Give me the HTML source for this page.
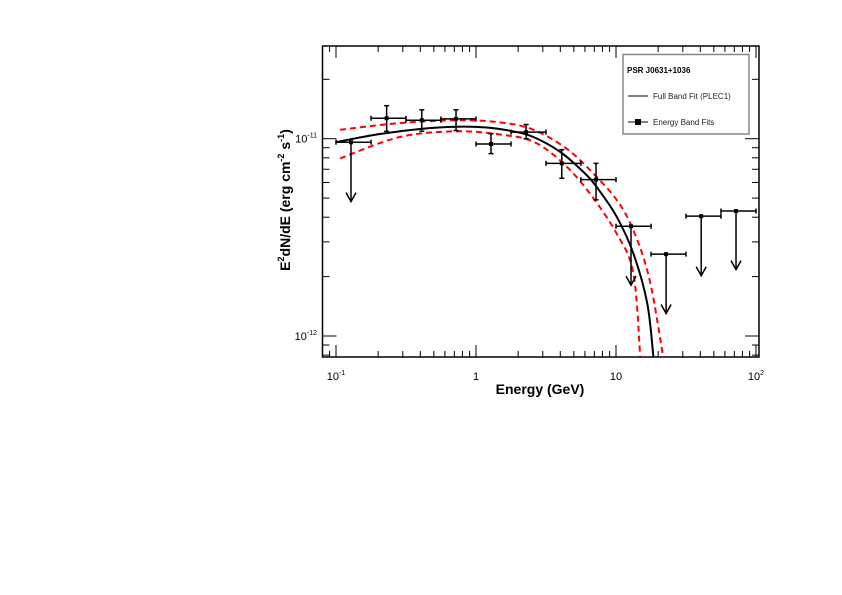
<!DOCTYPE html>
<html><head><meta charset="utf-8"><style>
html,body{margin:0;padding:0;background:#fff;}
svg{display:block;font-family:"Liberation Sans",Arial,sans-serif;}
</style></head><body>
<svg id="chart" width="842" height="595" viewBox="0 0 842 595" xmlns="http://www.w3.org/2000/svg">
<rect x="0" y="0" width="842" height="595" fill="#fff"/>
<g id="plot"></g>
<g id="legend">
  <rect x="623" y="54.5" width="126" height="79.5" fill="#fff" stroke="#888" stroke-width="1.5"/>
  <text x="627" y="73" font-size="8" font-weight="bold">PSR J0631+1036</text>
  <g>
    <line x1="628" y1="96" x2="648" y2="96" stroke="#000" stroke-width="1"/>
    <text x="653" y="99" font-size="8" fill="#222">Full Band Fit (PLEC1)</text>
  </g>
  <g>
    <line x1="628" y1="122" x2="648" y2="122" stroke="#000" stroke-width="1"/>
    <rect x="635" y="119" width="6" height="6" fill="#000"/>
    <text x="653" y="125" font-size="8" fill="#222">Energy Band Fits</text>
  </g>
</g>
<text x="540" y="394" text-anchor="middle" font-size="14" font-weight="bold">Energy (GeV)</text>
<text transform="translate(290,200) rotate(-90)" text-anchor="middle" font-size="14" font-weight="bold">E<tspan font-size="9" dy="-6">2</tspan><tspan dy="6">dN/dE (erg cm</tspan><tspan font-size="9" dy="-6">-2</tspan><tspan dy="6"> s</tspan><tspan font-size="9" dy="-6">-1</tspan><tspan dy="6">)</tspan></text>
</svg>
<script>
// ---- data ----
const binLow  = [0.1,0.178,0.316,0.562,1,1.78,3.16,5.62,10,17.8,31.6,56.2];
const binHigh = [0.178,0.316,0.562,1,1.78,3.16,5.62,10,17.8,31.6,56.2,100];
const pointE  = [0.128,0.23,0.41,0.72,1.28,2.28,4.1,7.2,12.8,22.8,40.6,72];
const pointFlux = [9.6e-12,1.27e-11,1.24e-11,1.26e-11,9.4e-12,1.08e-11,7.5e-12,6.2e-12,3.6e-12,2.6e-12,4.05e-12,4.3e-12];
const errLow  = [null,1.09e-11,1.09e-11,1.10e-11,8.4e-12,1.00e-11,6.3e-12,4.9e-12,null,null,null,null];
const errHigh = [null,1.47e-11,1.40e-11,1.40e-11,1.06e-11,1.18e-11,8.8e-12,7.5e-12,null,null,null,null];
const isUpperLimit = [true,false,false,false,false,false,false,false,true,true,true,true];
const arrowEnd = [4.8e-12,null,null,null,null,null,null,null,1.81e-12,1.30e-12,2.02e-12,2.17e-12];
const fitE    = [0.1,0.195,0.398,0.726,1.19,1.84,2.57,3.97,5.83,7.26,10.1,13.3,16.7,18.5];
const fitFlux = [9.6e-12,1.05e-11,1.12e-11,1.15e-11,1.14e-11,1.09e-11,1.02e-11,8.6e-12,6.8e-12,5.7e-12,4.03e-12,2.62e-12,1.47e-12,7.85e-13];
const upE     = [0.107,0.286,0.726,1.48,2.57,4.44,6.83,10.1,13.3,17.4,21.7];
const upFlux  = [1.11e-11,1.20e-11,1.24e-11,1.21e-11,1.11e-11,8.9e-12,6.7e-12,4.9e-12,3.44e-12,1.92e-12,7.85e-13];
const loE     = [0.107,0.286,0.726,1.48,2.57,4.2,6.5,10.1,13.3,14.9];
const loFlux  = [7.95e-12,1.02e-11,1.09e-11,1.05e-11,9.66e-12,7.5e-12,5.28e-12,3.31e-12,2.08e-12,7.85e-13];
const xTickVals = [0.1,1,10,100];
const xTickLabels = [["10","-1"],["1",""],["10",""],["10","2"]];
const yTickVals = [1e-12,1e-11];
const yTickLabels = [["10","-12"],["10","-11"]];

// ---- axes ----
const L=322.5,R=759,T=46,B=357;
const x=e=>336+140*Math.log10(e/0.1);
const y=v=>138.7-197.3*(Math.log10(v)+11);
const NS="http://www.w3.org/2000/svg";
const plot=document.getElementById('plot');
function mk(tag,attrs,parent){const el=document.createElementNS(NS,tag);for(const k in attrs)el.setAttribute(k,attrs[k]);(parent||plot).appendChild(el);return el;}

const frame=mk('rect',{x:L,y:T,width:R-L,height:B-T,fill:'none',stroke:'#000','stroke-width':1.5});



const xt=mk('g',{});


for(let d=-2;d<=2;d++){for(let m=1;m<=9;m++){const e=m*Math.pow(10,d);const px=x(e);if(px<L+1||px>R-1)continue;const len=m===1?12:6;
mk('line',{x1:px,y1:B,x2:px,y2:B-len,stroke:'#000','stroke-width':1},xt);
mk('line',{x1:px,y1:T,x2:px,y2:T+len,stroke:'#000','stroke-width':1},xt);}}
xTickVals.forEach((v,i)=>{const t=mk('text',{x:x(v),y:380,'text-anchor':'middle','font-size':11},xt);


t.textContent=xTickLabels[i][0];if(xTickLabels[i][1]){const s=mk('tspan',{'font-size':7,dy:-5},t);s.textContent=xTickLabels[i][1];}});

const yt=mk('g',{});


for(let d=-13;d<=-10;d++){for(let m=1;m<=9;m++){const v=m*Math.pow(10,d);const py=y(v);if(py<T+1||py>B-1)continue;const len=m===1?14:7;
mk('line',{x1:L,y1:py,x2:L+len,y2:py,stroke:'#000','stroke-width':1},yt);
mk('line',{x1:R,y1:py,x2:R-len,y2:py,stroke:'#000','stroke-width':1},yt);}}
yTickVals.forEach((v,i)=>{const t=mk('text',{x:317,y:y(v)+4,'text-anchor':'end','font-size':11},yt);


t.textContent=yTickLabels[i][0];const s=mk('tspan',{'font-size':7,dy:-5},t);s.textContent=yTickLabels[i][1];});

const cp=mk('clipPath',{id:'clip'});mk('rect',{x:L,y:T,width:R-L,height:B-T},cp);

function smoothPath(es,vs){const p=es.map((e,i)=>[x(e),y(vs[i])]);let d='M'+p[0][0]+','+p[0][1];
for(let i=0;i<p.length-1;i++){const p0=p[i-1]||p[i],p1=p[i],p2=p[i+1],p3=p[i+2]||p[i+1];
d+=' C'+(p1[0]+(p2[0]-p0[0])/6)+','+(p1[1]+(p2[1]-p0[1])/6)+' '+(p2[0]-(p3[0]-p1[0])/6)+','+(p2[1]-(p3[1]-p1[1])/6)+' '+p2[0]+','+p2[1];}return d;}

const up=mk('path',{d:smoothPath(upE,upFlux),fill:'none',stroke:'#f00','stroke-width':2,'stroke-dasharray':'6,4','clip-path':'url(#clip)'});


const lo=mk('path',{d:smoothPath(loE,loFlux),fill:'none',stroke:'#f00','stroke-width':2,'stroke-dasharray':'6,4','clip-path':'url(#clip)'});


const fit=mk('path',{d:smoothPath(fitE,fitFlux),fill:'none',stroke:'#000','stroke-width':2,'clip-path':'url(#clip)'});



pointE.forEach((e,i)=>{const g=mk('g',{stroke:'#000','stroke-width':1.5,fill:'none'});


const px=x(e),py=y(pointFlux[i]),x1=x(binLow[i]),x2=x(binHigh[i]);
mk('line',{x1:x1,y1:py,x2:x2,y2:py},g);
mk('line',{x1:x1,y1:py-2.5,x2:x1,y2:py+2.5},g);
mk('line',{x1:x2,y1:py-2.5,x2:x2,y2:py+2.5},g);
if(isUpperLimit[i]){const ye=y(arrowEnd[i]);mk('line',{x1:px,y1:py,x2:px,y2:ye},g);
mk('polyline',{points:(px-5)+','+(ye-9)+' '+px+','+ye+' '+(px+5)+','+(ye-9)},g);}
else{const a=y(errHigh[i]),b=y(errLow[i]);mk('line',{x1:px,y1:a,x2:px,y2:b},g);
mk('line',{x1:px-2.5,y1:a,x2:px+2.5,y2:a},g);mk('line',{x1:px-2.5,y1:b,x2:px+2.5,y2:b},g);}
mk('rect',{x:px-2,y:py-2,width:4,height:4,fill:'#000',stroke:'none'},g);});
</script>
</body></html>
